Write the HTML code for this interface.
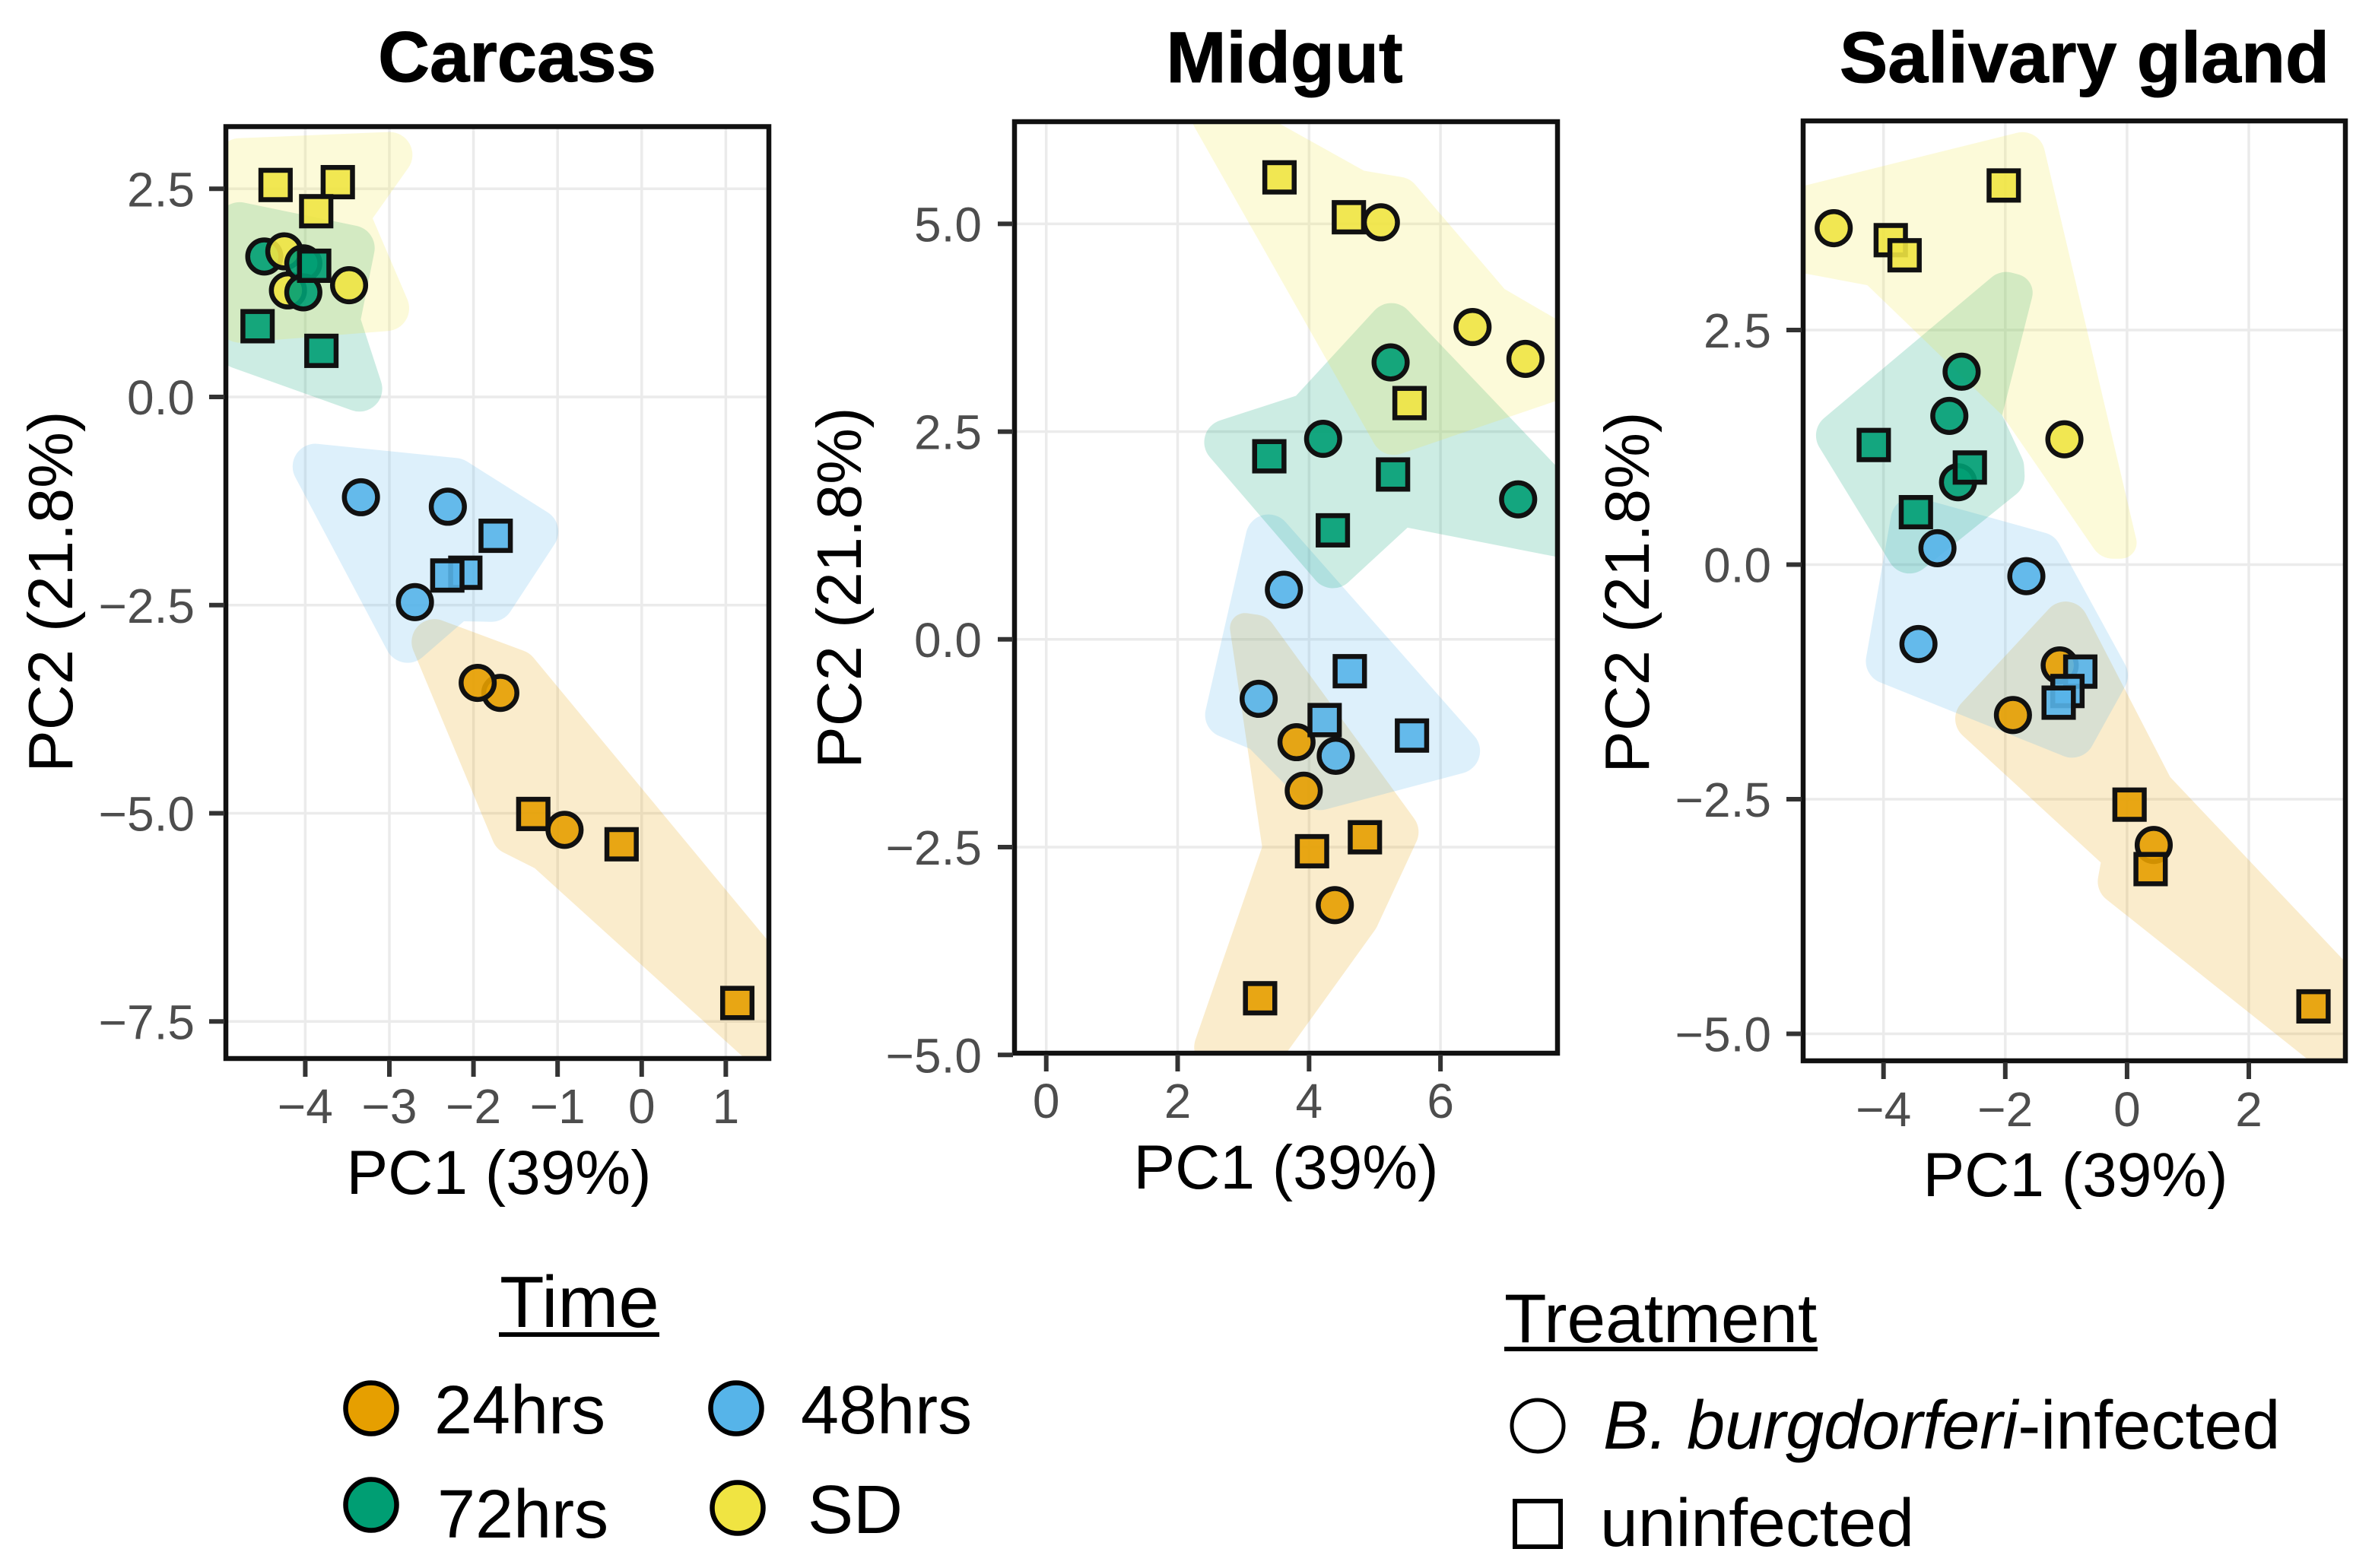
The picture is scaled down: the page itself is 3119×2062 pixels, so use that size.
<!DOCTYPE html>
<html lang="en">
<head>
<meta charset="utf-8">
<title>PCA by tissue</title>
<style>
  html,body{margin:0;padding:0;background:#fff;}
  svg{display:block;}
  text{font-family:"Liberation Sans",Arial,sans-serif;}
</style>
</head>
<body>
<svg id="chart" xmlns="http://www.w3.org/2000/svg" width="3119" height="2062" viewBox="0 0 3119 2062">
  <rect x="0" y="0" width="3119" height="2062" fill="#ffffff"/>
  <text x="680" y="107" font-size="94" font-weight="700" text-anchor="middle" fill="#000" stroke="#000" stroke-width="1">Carcass</text>
  <text x="1689" y="108" font-size="95" font-weight="700" text-anchor="middle" fill="#000" stroke="#000" stroke-width="1">Midgut</text>
  <text x="2741" y="108" font-size="95" font-weight="700" text-anchor="middle" fill="#000" stroke="#000" stroke-width="1">Salivary gland</text>

  <g id="panels"></g>

  <g>
    <text x="657" y="1745" font-size="96" fill="#000">Time</text>
    <rect x="656" y="1752" width="211" height="6" fill="#000"/>
    <circle cx="488" cy="1852" r="33.5" fill="#E69F00" stroke="#000" stroke-width="6.5"/>
    <text x="571" y="1885" font-size="90" fill="#000">24hrs</text>
    <circle cx="968" cy="1852" r="33.5" fill="#56B4E9" stroke="#000" stroke-width="6.5"/>
    <text x="1053" y="1885" font-size="90" fill="#000">48hrs</text>
    <circle cx="488" cy="1979" r="33.5" fill="#009E73" stroke="#000" stroke-width="6.5"/>
    <text x="575" y="2022" font-size="90" fill="#000">72hrs</text>
    <circle cx="970" cy="1983" r="33.5" fill="#F0E442" stroke="#000" stroke-width="6.5"/>
    <text x="1062" y="2016" font-size="90" fill="#000">SD</text>
  </g>

  <g>
    <text x="1978" y="1765" font-size="91" fill="#000">Treatment</text>
    <rect x="1978" y="1771" width="412" height="6" fill="#000"/>
    <circle cx="2022" cy="1875" r="34" fill="#fff" stroke="#000" stroke-width="5"/>
    <text x="2108" y="1905" font-size="90" fill="#000"><tspan font-style="italic">B. burgdorferi</tspan>-infected</text>
    <rect x="1992" y="1974" width="60" height="60" fill="#fff" stroke="#000" stroke-width="6"/>
    <text x="2104" y="2033" font-size="89.5" fill="#000">uninfected</text>
  </g>
</svg>

<script>
/* ---------- Carcass data ---------- */
const carcassTime  = ['72hrs','SD','SD','SD','72hrs','72hrs','72hrs','72hrs','72hrs','SD','SD','SD','48hrs','48hrs','48hrs','48hrs','48hrs','48hrs','24hrs','24hrs','24hrs','24hrs','24hrs','24hrs'];
const carcassShape = ['c','c','c','c','c','c','s','s','s','s','s','s','c','c','s','s','s','c','c','c','s','s','s','c'];
const carcassPC1   = [-4.487,-4.249,-4.206,-3.479,-4.023,-4.023,-3.894,-4.567,-3.808,-4.353,-3.613,-3.870,-3.338,-2.305,-1.736,-2.097,-2.311,-2.696,-1.681,-1.950,-1.289,-0.239,1.137,-0.917];
const carcassPC2   = [1.687,1.749,1.280,1.342,1.605,1.257,1.576,0.850,0.554,2.546,2.580,2.231,-1.204,-1.318,-1.667,-2.111,-2.144,-2.464,-3.554,-3.434,-5.008,-5.372,-7.278,-5.199];
const carcassXTicks = [-4,-3,-2,-1,0,1];
const carcassXLabels = ['\u22124','\u22123','\u22122','\u22121','0','1'];
const carcassYTicks = [2.5,0,-2.5,-5,-7.5];
const carcassYLabels = ['2.5','0.0','\u22122.5','\u22125.0','\u22127.5'];
const carcassHullSD = [[-5.052,3.096],[-2.457,3.205],[-3.199,2.146],[-2.638,0.822],[-5.052,0.630]];
const carcassHull72 = [[-5.052,2.402],[-3.126,2.000],[-3.340,0.932],[-2.928,-0.347],[-5.052,0.420]];
const carcassHull48 = [[-4.356,-0.511],[-2.132,-0.740],[-0.884,-1.534],[-1.644,-2.703],[-2.114,-2.694],[-2.864,-3.352]];
const carcassHull24 = [[-2.955,-2.466],[-1.333,-3.075],[2.152,-7.324],[2.152,-8.792],[-1.271,-5.660],[-1.730,-5.427]];

/* ---------- Midgut data ---------- */
const midgutTime  = ['SD','SD','SD','SD','SD','SD','72hrs','72hrs','72hrs','72hrs','72hrs','72hrs','24hrs','24hrs','24hrs','24hrs','24hrs','24hrs','48hrs','48hrs','48hrs','48hrs','48hrs','48hrs'];
const midgutShape = ['s','s','s','c','c','c','c','c','c','s','s','s','c','c','c','s','s','s','c','c','s','s','s','c'];
const midgutPC1   = [3.550,4.606,5.529,5.093,6.488,7.293,5.241,4.214,7.182,3.395,5.278,4.362,3.809,3.919,4.392,4.850,4.045,3.255,3.617,3.233,4.620,4.237,5.566,4.406];
const midgutPC2   = [5.559,5.079,2.843,5.018,3.758,3.375,3.333,2.413,1.685,2.203,1.984,1.312,-1.237,-1.821,-3.198,-2.381,-2.549,-4.318,0.597,-0.715,-0.383,-0.971,-1.157,-1.401];
const midgutXTicks = [0,2,4,6];
const midgutXLabels = ['0','2','4','6'];
const midgutYTicks = [5,2.5,0,-2.5,-5];
const midgutYLabels = ['5.0','2.5','0.0','\u22122.5','\u22125.0'];
const midgutHullSD = [[2.030,6.479],[2.930,6.479],[4.835,5.639],[5.536,5.545],[6.976,4.215],[8.305,3.604],[8.305,3.016],[5.130,2.161]];
const midgutHull72 = [[5.248,4.173],[8.305,1.634],[8.305,0.910],[5.499,1.344],[4.333,0.495],[2.148,2.507],[3.801,2.931]];
const midgutHull48 = [[3.196,1.811],[6.887,-1.494],[4.060,-2.087],[3.100,-1.317],[2.362,-1.074]];
const midgutHull24 = [[2.753,0.350],[3.359,0.280],[5.720,-2.287],[5.020,-3.478],[3.469,-5.181],[2.111,-5.181],[3.285,-2.498]];

/* ---------- Salivary gland data ---------- */
const salivaryTime  = ['SD','SD','SD','SD','SD','72hrs','72hrs','72hrs','72hrs','72hrs','72hrs','48hrs','48hrs','48hrs','24hrs','24hrs','24hrs','24hrs','24hrs','24hrs','48hrs','48hrs','48hrs'];
const salivaryShape = ['c','c','s','s','s','c','c','c','s','s','s','c','c','c','c','c','c','s','s','s','s','s','s'];
const salivaryPC1   = [-4.818,-1.029,-3.881,-3.654,-2.025,-2.717,-2.919,-2.776,-4.160,-2.582,-3.468,-3.114,-1.654,-3.426,-1.106,-1.874,0.438,0.041,0.387,3.062,-0.768,-0.979,-1.123];
const salivaryPC2   = [3.586,1.336,3.458,3.297,4.041,2.056,1.585,0.878,1.275,1.035,0.559,0.175,-0.123,-0.846,-1.074,-1.603,-2.988,-2.558,-3.245,-4.708,-1.140,-1.347,-1.471];
const salivaryXTicks = [-4,-2,0,2];
const salivaryXLabels = ['\u22124','\u22122','0','2'];
const salivaryYTicks = [2.5,0,-2.5,-5];
const salivaryYLabels = ['2.5','0.0','\u22122.5','\u22125.0'];
const salivaryHullSD = [[-1.443,4.661],[0.227,0.063],[-0.431,0.063],[-2.051,1.593],[-4.265,2.978],[-5.999,3.189],[-5.999,3.925]];
const salivaryHull72 = [[-2.076,3.144],[-1.485,3.040],[-2.051,1.593],[-1.696,1.097],[-1.671,0.828],[-3.670,-0.214],[-5.223,1.428]];
const salivaryHull48 = [[-3.805,0.783],[-1.190,0.311],[0.067,-1.182],[-0.735,-2.120],[-4.337,-1.182]];
const salivaryHull24 = [[-0.921,-0.218],[0.708,-2.264],[4.463,-4.836],[4.463,-6.044],[-0.515,-3.476],[-0.431,-3.174],[-2.978,-1.656]];

/* ---------- colours ---------- */
const timeColors = {'24hrs':'#E69F00','48hrs':'#56B4E9','72hrs':'#009E73','SD':'#F0E442'};

/* ---------- panel wiring ---------- */
const panelList = [
  {key:'carcass', rect:[297,166.5,1011,1392], xDom:[-4.944,1.512], yDom:[3.247,-7.945],
   time:carcassTime, shape:carcassShape, pc1:carcassPC1, pc2:carcassPC2,
   xt:carcassXTicks, xl:carcassXLabels, yt:carcassYTicks, yl:carcassYLabels,
   hulls:[['24hrs',carcassHull24],['48hrs',carcassHull48],['72hrs',carcassHull72],['SD',carcassHullSD]],
   xLabelY:1477, yLabelX:256, xTitle:[656,1570], yTitle:[95,778]},
  {key:'midgut', rect:[1334,160,2048,1385], xDom:[-0.483,7.781], yDom:[6.229,-4.979],
   time:midgutTime, shape:midgutShape, pc1:midgutPC1, pc2:midgutPC2,
   xt:midgutXTicks, xl:midgutXLabels, yt:midgutYTicks, yl:midgutYLabels,
   hulls:[['24hrs',midgutHull24],['48hrs',midgutHull48],['72hrs',midgutHull72],['SD',midgutHullSD]],
   xLabelY:1470, yLabelX:1291, xTitle:[1691,1563], yTitle:[1132,773]},
  {key:'salivary', rect:[2371,159,3084,1395], xDom:[-5.320,3.586], yDom:[4.729,-5.288],
   time:salivaryTime, shape:salivaryShape, pc1:salivaryPC1, pc2:salivaryPC2,
   xt:salivaryXTicks, xl:salivaryXLabels, yt:salivaryYTicks, yl:salivaryYLabels,
   hulls:[['24hrs',salivaryHull24],['48hrs',salivaryHull48],['72hrs',salivaryHull72],['SD',salivaryHullSD]],
   xLabelY:1481, yLabelX:2329, xTitle:[2729,1573], yTitle:[2168,779]}
];

const NS = 'http://www.w3.org/2000/svg';
const HULL_RADIUS = 30;
const root = document.getElementById('panels');

function make(parent, tag, attrs, txt){
  const el = document.createElementNS(NS, tag);
  for (const k in attrs) el.setAttribute(k, attrs[k]);
  if (txt !== undefined) el.textContent = txt;
  parent.appendChild(el);
  return el;
}
function linear(d0, d1, r0, r1){
  return v => r0 + (v - d0) * (r1 - r0) / (d1 - d0);
}
function slug(s){ return s.toLowerCase(); }

function roundedHull(pts){
  let area = 0;
  pts.forEach((p, i) => { const q = pts[(i + 1) % pts.length]; area += p[0] * q[1] - q[0] * p[1]; });
  const sign = area > 0 ? 1 : -1;
  const sweep = area > 0 ? 1 : 0;
  let d = '';
  pts.forEach((c, i) => {
    const a = pts[(i - 1 + pts.length) % pts.length], b = pts[(i + 1) % pts.length];
    const ax = a[0] - c[0], ay = a[1] - c[1], bx = b[0] - c[0], by = b[1] - c[1];
    const la = Math.hypot(ax, ay), lb = Math.hypot(bx, by);
    const cross = (c[0] - a[0]) * (b[1] - c[1]) - (c[1] - a[1]) * (b[0] - c[0]);
    const cmd = d ? 'L' : 'M';
    if (cross * sign <= 0) { d += cmd + c[0].toFixed(1) + ' ' + c[1].toFixed(1); return; }
    const theta = Math.acos(Math.max(-1, Math.min(1, (ax * bx + ay * by) / (la * lb))));
    const tanHalf = Math.tan(theta / 2);
    const t = Math.min(HULL_RADIUS / tanHalf, la * 0.5, lb * 0.5);
    const r = t * tanHalf;
    d += cmd + (c[0] + ax / la * t).toFixed(1) + ' ' + (c[1] + ay / la * t).toFixed(1);
    d += 'A' + r.toFixed(1) + ' ' + r.toFixed(1) + ' 0 0 ' + sweep + ' ' + (c[0] + bx / lb * t).toFixed(1) + ' ' + (c[1] + by / lb * t).toFixed(1);
  });
  return d + 'Z';
}

panelList.forEach(p => {
  const [L, T, R, B] = p.rect;
  const x = linear(p.xDom[0], p.xDom[1], L, R);
  const y = linear(p.yDom[0], p.yDom[1], T, B);

  const g = make(root, 'g', {});
  
  

  const defs = make(g, 'defs', {});
  const clip = make(defs, 'clipPath', {id: 'clip-' + p.key});
  make(clip, 'rect', {x: L, y: T, width: R - L, height: B - T});

  /* gridlines */
  p.xt.forEach(v => {
    const ln = make(g, 'line', {x1: x(v), x2: x(v), y1: T, y2: B, stroke: '#EBEBEB', 'stroke-width': 3.5});
    
    
  });
  p.yt.forEach(v => {
    const ln = make(g, 'line', {x1: L, x2: R, y1: y(v), y2: y(v), stroke: '#EBEBEB', 'stroke-width': 3.5, 'clip-path': 'url(#clip-' + p.key + ')'});
    
    
  });

  /* hulls */
  const hullLayer = make(g, 'g', {'clip-path': 'url(#clip-' + p.key + ')'});
  
  
  p.hulls.forEach(h => {
    const pixelPts = h[1].map(v => [x(v[0]), y(v[1])]);
    const path = make(hullLayer, 'path', {d: roundedHull(pixelPts), fill: timeColors[h[0]], 'fill-opacity': 0.2});
    
    
  });

  /* points */
  p.pc1.forEach((v, i) => {
    const fill = timeColors[p.time[i]];
    let mark;
    if (p.shape[i] === 'c') {
      mark = make(g, 'circle', {cx: x(v), cy: y(p.pc2[i]), r: 21.8, fill: fill, 'fill-opacity': 0.9, stroke: '#111', 'stroke-width': 6.5});
    } else {
      mark = make(g, 'rect', {x: x(v) - 19.3, y: y(p.pc2[i]) - 19.3, width: 38.6, height: 38.6, fill: fill, 'fill-opacity': 0.9, stroke: '#111', 'stroke-width': 6.5});
    }
    
    
  });

  /* border */
  const border = make(g, 'rect', {x: L, y: T, width: R - L, height: B - T, fill: 'none', stroke: '#111', 'stroke-width': 6.5});
  
  

  /* ticks and tick labels */
  p.xt.forEach((v, i) => {
    const tk = make(g, 'line', {x1: x(v), x2: x(v), y1: B + 2, y2: B + 24, stroke: '#333', 'stroke-width': 6});
    
    
    const lb = make(g, 'text', {x: x(v), y: p.xLabelY, 'font-size': 64, fill: '#4D4D4D', 'text-anchor': 'middle'}, p.xl[i]);
    
    
  });
  p.yt.forEach((v, i) => {
    const tk = make(g, 'line', {x1: L - 22, x2: L - 2, y1: y(v), y2: y(v), stroke: '#333', 'stroke-width': 6});
    
    
    const lb = make(g, 'text', {x: p.yLabelX, y: y(v) + 23, 'font-size': 64, fill: '#4D4D4D', 'text-anchor': 'end'}, p.yl[i]);
    
    
  });

  /* axis titles */
  const xTitle = make(g, 'text', {x: p.xTitle[0], y: p.xTitle[1], 'font-size': 82, fill: '#000', 'text-anchor': 'middle'}, 'PC1 (39%)');
  
  
  const yTitle = make(g, 'text', {x: 0, y: 0, 'font-size': 83, fill: '#000', 'text-anchor': 'middle', transform: 'translate(' + p.yTitle[0] + ' ' + p.yTitle[1] + ') rotate(-90)'}, 'PC2 (21.8%)');
  
  
});
</script>
</body>
</html>
